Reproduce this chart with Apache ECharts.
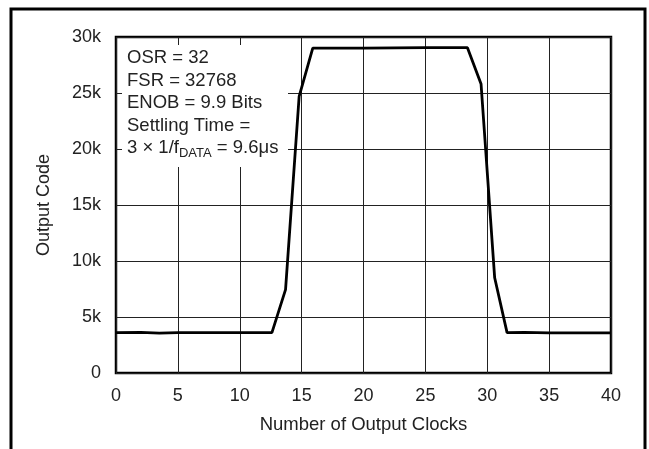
<!DOCTYPE html>
<html>
<head>
<meta charset="utf-8">
<script src="https://cdn.jsdelivr.net/npm/echarts@6/dist/echarts.min.js"></script>
<style>
  html, body { margin: 0; padding: 0; background: #fff; }
  #chart { width: 649px; height: 449px; }
</style>
</head>
<body>
<div id="chart"></div>
<script>
  // 输出码随时钟数变化
  const clocks = [0, 2, 3.5, 5, 8, 12.6, 13.7, 14.8, 15.9, 20, 25, 28.4, 29.5, 30.6, 31.6, 33, 35, 40];
  const codes = [3600, 3620, 3560, 3600, 3600, 3600, 7450, 24700, 29000, 29000, 29050, 29050, 25800, 8500, 3600, 3620, 3580, 3580];
  const noteLines = ['OSR = 32', 'FSR = 32768', 'ENOB = 9.9 Bits', 'Settling Time =', '3 × 1/f{sub|DATA} = 9.6μs'];

  const font = 'Liberation Sans, Arial, Helvetica, sans-serif';
  const chart = echarts.init(document.getElementById('chart'));

  const option = {
    animation: false,
    backgroundColor: '#fff',
    textStyle: { fontFamily: font },
    grid: {
      left: 116, right: 38, top: 37, bottom: 76,
      show: true, borderColor: '#000', borderWidth: 2.5
    },
    xAxis: {
      type: 'value', min: 0, max: 40, interval: 5,
      name: 'Number of Output Clocks', nameLocation: 'middle', nameGap: 42,
      nameTextStyle: { fontSize: 18.5, color: '#222', fontFamily: font },
      axisLine: { show: false }, axisTick: { show: false },
      axisLabel: { fontSize: 18, color: '#222', margin: 14, fontFamily: font },
      splitLine: { lineStyle: { color: '#222', width: 1 } }
    },
    yAxis: {
      type: 'value', min: 0, max: 30000, interval: 5000,
      name: 'Output Code', nameLocation: 'middle', nameGap: 63,
      nameTextStyle: { fontSize: 18, color: '#222', fontFamily: font },
      axisLine: { show: false }, axisTick: { show: false },
      axisLabel: {
        fontSize: 18, color: '#222', margin: 15, fontFamily: font,
        formatter: v => v === 0 ? '0' : (v / 1000) + 'k'
      },
      splitLine: { lineStyle: { color: '#222', width: 1 } }
    },
    graphic: [
      {
        type: 'rect', z: 0,
        shape: { x: 11, y: 9, width: 634, height: 470 },
        style: { fill: 'none', stroke: '#000', lineWidth: 3 }
      },
      {
        type: 'rect', z: 1,
        shape: { x: 122, y: 45, width: 166, height: 122 },
        style: { fill: '#fff' }
      }
    ].concat(noteLines.map((t, i) => ({
      type: 'text', z: 3,
      x: 127, y: 58 + i * 22.5,
      style: {
        text: t, fontSize: 18.5, fontFamily: font, fill: '#222',
        verticalAlign: 'middle',
        rich: {
          sub: { fontSize: 13, fontFamily: font, fill: '#222', padding: [10, 0, 0, 0] }
        }
      }
    }))),
    series: [
      {
        type: 'line',
        data: clocks.map((c, i) => [c, codes[i]]),
        symbol: 'none',
        z: 5,
        lineStyle: { color: '#000', width: 2.8 }
      }
    ]
  };

  chart.setOption(option);
</script>
</body>
</html>
